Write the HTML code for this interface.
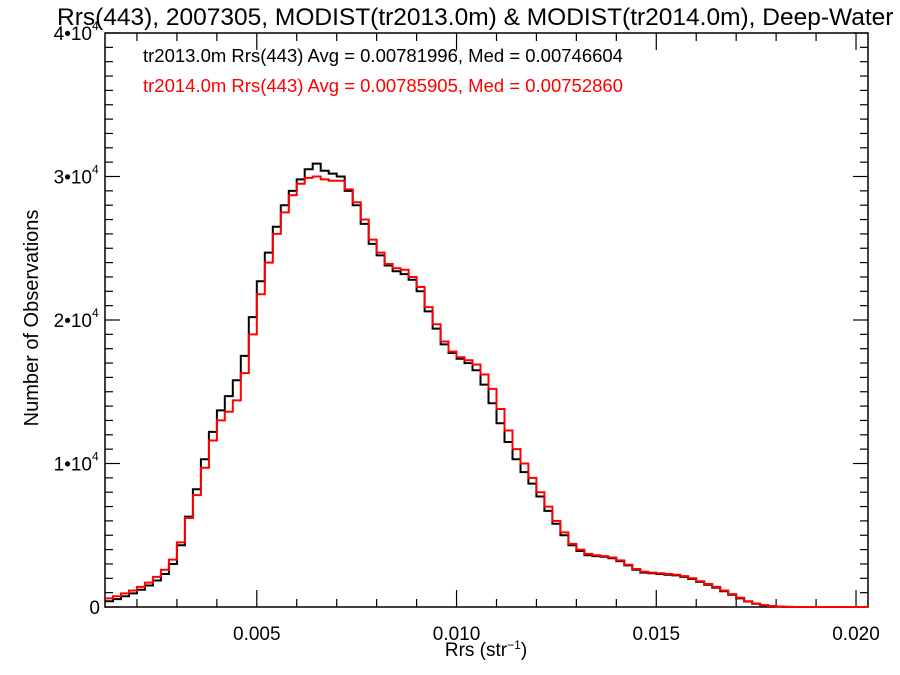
<!DOCTYPE html>
<html><head><meta charset="utf-8"><style>
html,body{margin:0;padding:0;background:#fff;}
svg{display:block;font-family:"Liberation Sans",Arial,sans-serif;}
</style></head><body>
<svg id="chart" width="900" height="675" viewBox="0 0 900 675" xmlns="http://www.w3.org/2000/svg">
<rect width="900" height="675" fill="#fff"/>
<text x="57" y="25" font-size="24.5" fill="#000">Rrs(443), 2007305, MODIST(tr2013.0m) &amp; MODIST(tr2014.0m), Deep-Water</text>
<text x="143" y="62" font-size="18.5" fill="#000">tr2013.0m Rrs(443) Avg = 0.00781996, Med = 0.00746604</text>
<text x="143" y="92" font-size="18.5" fill="#ff0000">tr2014.0m Rrs(443) Avg = 0.00785905, Med = 0.00752860</text>
<text x="486" y="656" font-size="19" text-anchor="middle">Rrs (str<tspan font-size="12" dy="-7">−1</tspan><tspan dy="7">)</tspan></text>
<text transform="translate(38,318) rotate(-90)" font-size="20" text-anchor="middle">Number of Observations</text>
<g id="axes"></g>
<g id="series"></g>
</svg>
<script>
const binStart = 0.0012;
const binWidth = 0.0002;
const seriesNames = ["tr2013.0m", "tr2014.0m"];
const seriesColors = ["#000000", "#ff0000"];
const countsTr2013 = [400,550,750,950,1200,1500,1850,2300,3000,4300,6300,8200,10300,12200,13700,14700,15800,17500,20200,22700,24700,26500,28000,29000,29800,30500,30900,30400,30200,30000,29000,28000,26700,25300,24500,23800,23400,23200,22800,22000,20600,19400,18300,17700,17300,17000,16500,15500,14200,12800,11500,10300,9400,8600,7700,6700,5800,5000,4300,3900,3600,3550,3500,3400,3200,2900,2600,2400,2350,2300,2250,2200,2100,1950,1750,1550,1350,1100,850,600,380,220,120,60,30,10,0,0,0,0,0,0,0,0,0,0];
const countsTr2014 = [600,750,950,1150,1400,1700,2100,2600,3300,4500,6200,7800,9700,11600,13000,13600,14400,16300,19000,21800,24000,26000,27500,28700,29500,29900,30000,29800,29700,29700,29100,28200,27000,25600,24700,23900,23600,23500,23000,22300,20900,19700,18500,17800,17400,17200,16900,16200,15200,13800,12300,11000,10000,9000,8000,7000,6000,5200,4400,4000,3700,3600,3550,3450,3250,2950,2650,2450,2400,2350,2300,2250,2150,2000,1800,1600,1400,1150,900,640,400,240,130,70,30,10,0,0,0,0,0,0,0,0,0,0];
const xTickValues = [0.005, 0.010, 0.015, 0.020];
const xTickLabels = ["0.005", "0.010", "0.015", "0.020"];
const yTickValues = [0, 10000, 20000, 30000, 40000];

const X0 = 105, X1 = 868, Y0 = 607, Y1 = 33;
const xMin = 0.0012, xMax = 0.0203, yMin = 0, yMax = 40000;
const xs = v => X0 + (v - xMin) / (xMax - xMin) * (X1 - X0);
const ys = v => Y0 - (v - yMin) / (yMax - yMin) * (Y0 - Y1);
const NS = "http://www.w3.org/2000/svg";
const axes = document.getElementById('axes');
const series = document.getElementById('series');
function mk(tag, attrs, parent) {
  const e = document.createElementNS(NS, tag);
  for (const k in attrs) e.setAttribute(k, attrs[k]);
  parent.appendChild(e);
  return e;
}
const frame = mk('rect', {x: X0, y: Y1, width: X1 - X0, height: Y0 - Y1, fill: 'none', stroke: '#000', 'stroke-width': 1.5}, axes);


for (let i = 2; i <= 20; i++) {
  const v = i * 0.001;
  if (v < xMin || v > xMax) continue;
  const major = i % 5 === 0;
  const L = major ? 17 : 8;
  const x = xs(v);
  const t1 = mk('line', {x1: x, x2: x, y1: Y0, y2: Y0 - L, stroke: '#000', 'stroke-width': 1.2}, axes);
  
  
  const t2 = mk('line', {x1: x, x2: x, y1: Y1, y2: Y1 + L, stroke: '#000', 'stroke-width': 1.2}, axes);
  
  
}
xTickValues.forEach((v, i) => {
  const t = mk('text', {x: xs(v), y: Y0 + 33, 'font-size': 19, 'text-anchor': 'middle'}, axes);
  t.textContent = xTickLabels[i];
  
  
});
for (let i = 0; i <= 40; i++) {
  const v = i * 1000;
  const major = i % 10 === 0;
  const L = major ? 15 : 8;
  const y = ys(v);
  const t1 = mk('line', {x1: X0, x2: X0 + L, y1: y, y2: y, stroke: '#000', 'stroke-width': 1.2}, axes);
  
  
  const t2 = mk('line', {x1: X1, x2: X1 - L, y1: y, y2: y, stroke: '#000', 'stroke-width': 1.2}, axes);
  
  
}
yTickValues.forEach((v) => {
  const y = ys(v);
  const t = mk('text', {x: v === 0 ? 100 : 92, y: y + 7, 'font-size': 19, 'text-anchor': 'end'}, axes);
  
  
  if (v === 0) { t.textContent = '0'; }
  else {
    t.textContent = (v / 10000) + '•10';
    const s = mk('text', {x: 92, y: y - 3, 'font-size': 12, 'text-anchor': 'start'}, axes);
    s.textContent = '4';
    
    
  }
});
[countsTr2013, countsTr2014].forEach((arr, si) => {
  let d = '';
  arr.forEach((c, i) => {
    const xa = xs(binStart + i * binWidth), xb = Math.min(X1, xs(binStart + (i + 1) * binWidth));
    if (xa >= X1) return;
    const y = ys(c);
    d += (i === 0 ? 'M' : 'L') + xa.toFixed(1) + ',' + y.toFixed(1) + 'L' + xb.toFixed(1) + ',' + y.toFixed(1);
  });
  const p = mk('path', {d: d, fill: 'none', stroke: seriesColors[si], 'stroke-width': 2}, series);
  
  
});
</script>
</body></html>
